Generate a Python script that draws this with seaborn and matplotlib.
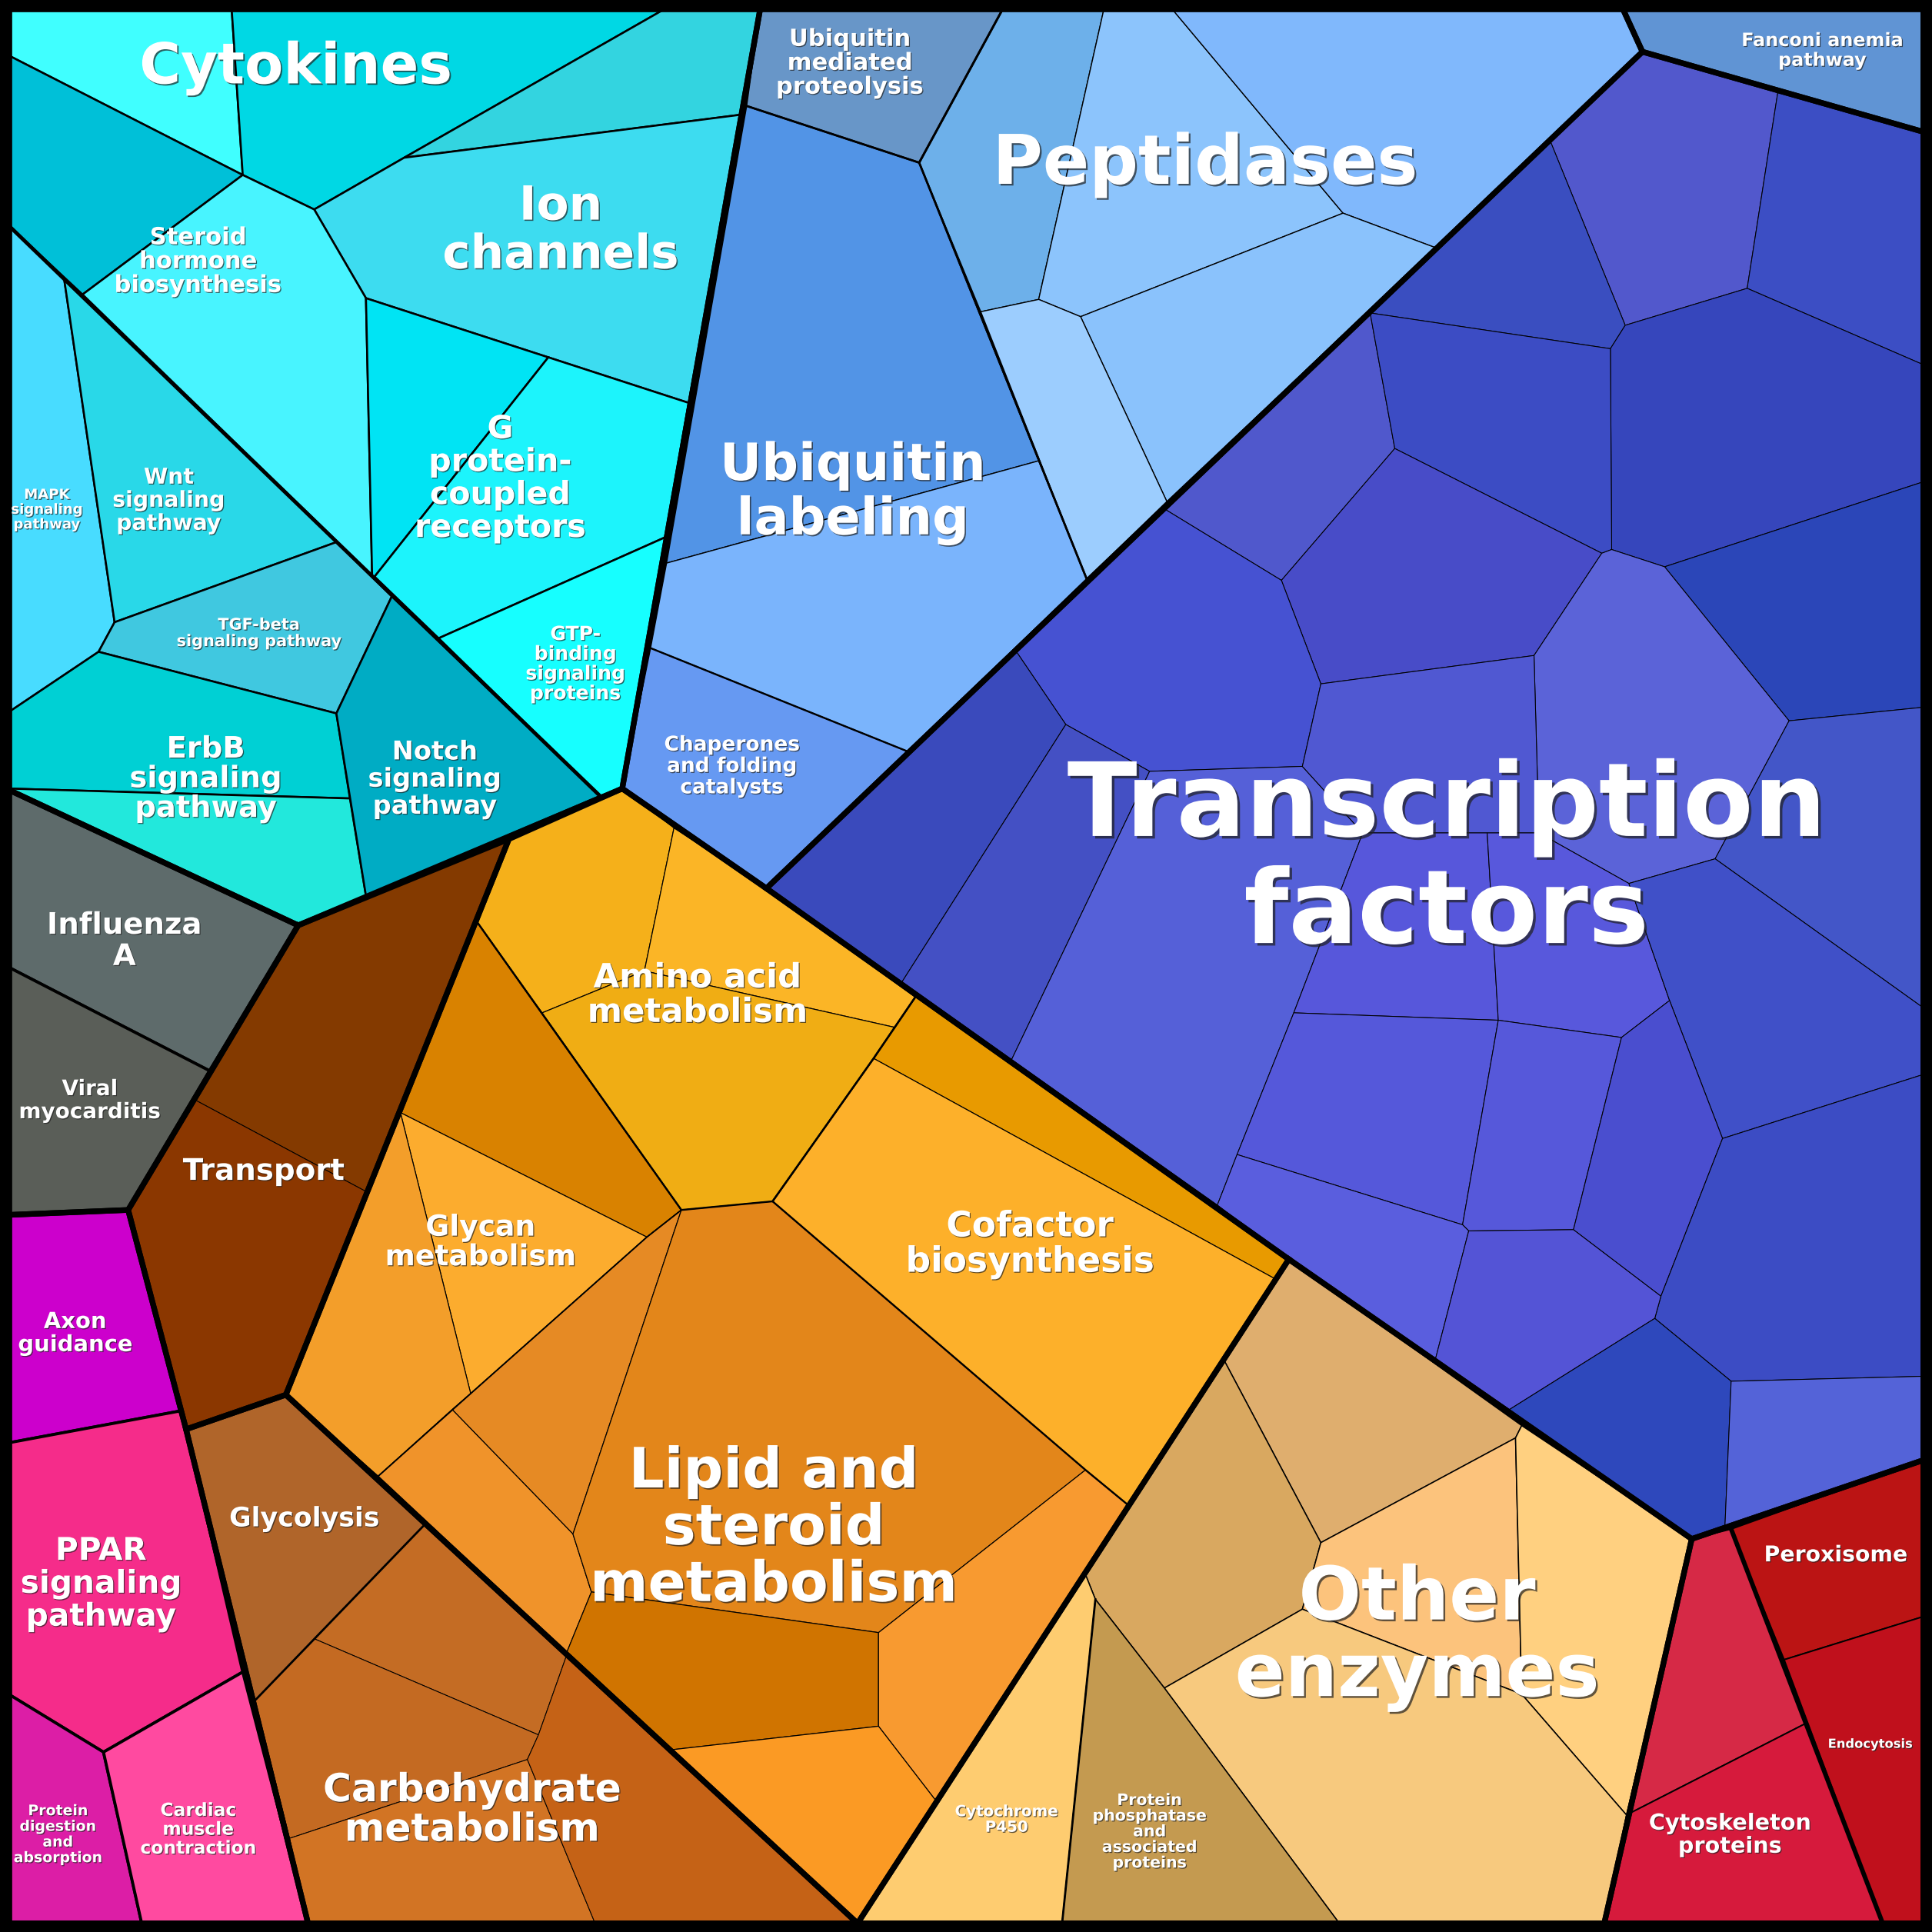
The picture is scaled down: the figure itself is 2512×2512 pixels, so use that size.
import matplotlib
matplotlib.use("Agg")
import matplotlib.pyplot as plt
import matplotlib.patheffects as pe
import seaborn as sns

# Voronoi treemap of functional categories.
# Coordinates are pixels on a 1568 px square canvas, y grows downward.
SIZE = 1568
L, R, T, B = 7, 1561, 7, 1561

# ---------------------------------------------------------------------------
# Cells (polygon vertices) and their colours, one list per top-level group
# ---------------------------------------------------------------------------
cyan_polys = [
    [(L, T), (188, T), (197, 142), (L, 45)],
    [(188, T), (540, T), (328, 128), (255, 170), (197, 142)],
    [(540, T), (617, T), (602, 93), (328, 128)],
    [(328, 128), (602, 93), (559, 327), (445, 290), (297, 242), (255, 170)],
    [(L, 45), (197, 142), (67, 239), (L, 183)],
    [(197, 142), (255, 170), (297, 242), (302, 467), (67, 239)],
    [(297, 242), (445, 290), (304, 468), (302, 467)],
    [(445, 290), (559, 327), (540, 436), (356, 518), (304, 468)],
    [(356, 518), (540, 436), (505, 640), (487, 646)],
    [(L, 183), (52, 226), (93, 505), (80, 529), (L, 578)],
    [(52, 226), (273, 440), (93, 505)],
    [(93, 505), (273, 440), (318, 484), (273, 579), (80, 529)],
    [(80, 529), (273, 579), (284, 648), (L, 640), (L, 578)],
    [(L, 640), (284, 648), (297, 727), (242, 751)],
    [(318, 484), (487, 646), (297, 727), (273, 579)],
]
cyan_colors = ["#40ffff", "#00d8e4", "#33d4e0", "#3ddcf0", "#00c0d8",
               "#48f4ff", "#00e4f4", "#1cf4fc", "#16ffff", "#48dcff",
               "#29d8e8", "#40c8e0", "#00d0d4", "#22e8dc", "#00acc4"]

blue_polys = [
    [(617, T), (814, T), (746, 132), (606, 86)],
    [(606, 86), (746, 132), (843, 374), (541, 457)],
    [(541, 457), (843, 374), (882, 470), (737, 610), (528, 526)],
    [(528, 526), (737, 610), (622, 721), (505, 640)],
    [(814, T), (896, T), (843, 243), (796, 253), (746, 132)],
    [(896, T), (951, T), (1090, 173), (877, 257), (843, 243)],
    [(951, T), (1317, T), (1333, 42), (1165, 201), (1090, 173)],
    [(877, 257), (1090, 173), (1165, 201), (947, 407)],
    [(796, 253), (843, 243), (877, 257), (947, 407), (882, 470)],
]
blue_colors = ["#6896c8", "#5294e6", "#7ab4fc", "#6699f2", "#6db0ea",
               "#8cc4fc", "#80b8fc", "#8ac2fc", "#9ccdfe"]

fanconi_polys = [[(1317, T), (R, T), (R, 107), (1333, 42)]]
fanconi_colors = ["#6094d4"]

tf_polys = [
    [(1258, 114), (1333, 42), (1443, 74), (1418, 234), (1319, 264)],
    [(1443, 74), (R, 107), (R, 296), (1418, 234)],
    [(1112, 254), (1258, 114), (1319, 264), (1307, 283)],
    [(1319, 264), (1418, 234), (R, 296), (R, 391), (1351, 460), (1308, 446), (1307, 283)],
    [(945, 413), (1112, 254), (1132, 364), (1040, 471)],
    [(1112, 254), (1307, 283), (1308, 446), (1300, 449), (1132, 364)],
    [(1132, 364), (1300, 449), (1245, 532), (1072, 555), (1040, 471)],
    [(1351, 460), (R, 391), (R, 574), (1452, 585)],
    [(1245, 532), (1300, 449), (1308, 446), (1351, 460), (1452, 585), (1392, 697), (1322, 717), (1249, 676)],
    [(1452, 585), (R, 574), (R, 818), (1392, 697)],
    [(825, 529), (945, 413), (1040, 471), (1072, 555), (1057, 622), (933, 626), (865, 588)],
    [(825, 529), (865, 588), (732, 797), (622, 721)],
    [(865, 588), (933, 626), (821, 860), (732, 797)],
    [(933, 626), (1057, 622), (1106, 676), (1050, 822), (1004, 937), (988, 978), (821, 860)],
    [(1072, 555), (1245, 532), (1249, 676), (1207, 676), (1106, 676), (1057, 622)],
    [(1106, 676), (1207, 676), (1216, 828), (1050, 822)],
    [(1207, 676), (1249, 676), (1322, 717), (1355, 812), (1316, 842), (1216, 828)],
    [(1322, 717), (1392, 697), (R, 818), (R, 872), (1398, 924), (1355, 812)],
    [(1050, 822), (1216, 828), (1187, 994), (1004, 937)],
    [(1216, 828), (1316, 842), (1277, 998), (1192, 999), (1187, 994)],
    [(1316, 842), (1355, 812), (1398, 924), (1348, 1052), (1277, 998)],
    [(1398, 924), (R, 872), (R, 1117), (1405, 1121), (1343, 1070), (1348, 1052)],
    [(988, 978), (1004, 937), (1187, 994), (1192, 999), (1165, 1103), (1046, 1022)],
    [(1192, 999), (1277, 998), (1348, 1052), (1343, 1070), (1225, 1144), (1165, 1103)],
    [(1225, 1144), (1343, 1070), (1405, 1121), (1400, 1238), (1373, 1249)],
    [(1405, 1121), (R, 1117), (R, 1185), (1400, 1238)],
]
tf_colors = ["#5258cc", "#3c4ec4", "#3a4ec0", "#3646bc", "#5058cc", "#3c4cc4",
             "#484cc8", "#2b46b8", "#5b63d8", "#4356c8", "#4652d2", "#3a4abc",
             "#4450c4", "#5560d8", "#5058d2", "#5757db", "#5858dc", "#4050c8",
             "#5558da", "#5658da", "#4a4ecf", "#3c4cc4", "#5a5ede", "#5454d6",
             "#2e48bc", "#5463d8"]

orange_polys = [
    [(413, 681), (505, 640), (547, 672), (523, 788), (440, 822), (387, 748)],
    [(547, 672), (622, 721), (743, 809), (727, 834), (523, 788)],
    [(440, 822), (523, 788), (727, 834), (709, 859), (627, 975), (553, 982)],
    [(743, 809), (1046, 1022), (1035, 1038), (709, 859)],
    [(709, 859), (1035, 1038), (915, 1221), (881, 1193), (627, 975)],
    [(387, 748), (553, 982), (525, 1004), (325, 903)],
    [(325, 903), (525, 1004), (382, 1131)],
    [(325, 903), (382, 1131), (367, 1144), (307, 1198), (232, 1132)],
    [(382, 1131), (525, 1004), (553, 982), (465, 1245), (367, 1144)],
    [(367, 1144), (465, 1245), (480, 1292), (460, 1341), (307, 1198)],
    [(553, 982), (627, 975), (881, 1193), (713, 1325), (480, 1292), (465, 1245)],
    [(480, 1292), (713, 1325), (713, 1401), (546, 1420), (460, 1341)],
    [(881, 1193), (915, 1221), (760, 1462), (713, 1401), (713, 1325)],
    [(546, 1420), (713, 1401), (760, 1462), (696, B)],
]
orange_colors = ["#f5b01a", "#fbb526", "#f0ad14", "#e89a00", "#fdb02a",
                 "#d98200", "#fcac2e", "#f39e2a", "#e68a24", "#f0932a",
                 "#e3861a", "#d07400", "#f89a30", "#fb9a24"]

carb_polys = [
    [(232, 1132), (345, 1237), (207, 1380), (151, 1160)],
    [(345, 1237), (460, 1343), (437, 1408), (255, 1330)],
    [(255, 1330), (437, 1408), (428, 1428), (235, 1492), (207, 1380)],
    [(235, 1492), (428, 1428), (483, B), (250, B)],
    [(460, 1343), (696, B), (483, B), (428, 1428), (437, 1408)],
]
carb_colors = ["#b0652a", "#c46c24", "#c46a22", "#d27424", "#c56216"]

transport_polys = [
    [(242, 751), (413, 681), (297, 967), (157, 892)],
    [(157, 892), (297, 967), (232, 1132), (151, 1160), (104, 982)],
]
transport_colors = ["#843a00", "#8b3700"]

gray_polys = [
    [(L, 641), (242, 751), (170, 869), (L, 785)],
    [(L, 785), (170, 869), (104, 982), (L, 986)],
]
gray_colors = ["#5e6b6b", "#5a5e58"]

magenta_polys = [
    [(L, 986), (104, 982), (147, 1145), (L, 1171)],
    [(L, 1171), (147, 1145), (151, 1160), (197, 1357), (84, 1422), (L, 1375)],
    [(L, 1375), (84, 1422), (115, B), (L, B)],
    [(84, 1422), (197, 1357), (250, B), (115, B)],
]
magenta_colors = ["#cc00cc", "#f52c8a", "#dc1ea6", "#ff4aa0"]

enzyme_polys = [
    [(1046, 1022), (1235, 1157), (1230, 1167), (1072, 1252), (994, 1105)],
    [(994, 1105), (1072, 1252), (1057, 1306), (945, 1370), (889, 1298), (881, 1278)],
    [(1072, 1252), (1230, 1167), (1235, 1375), (1057, 1306)],
    [(1235, 1157), (1373, 1249), (1320, 1473), (1235, 1375), (1230, 1167)],
    [(945, 1370), (1057, 1306), (1235, 1375), (1320, 1473), (1302, B), (1087, B)],
    [(881, 1278), (889, 1298), (862, B), (696, B)],
    [(889, 1298), (945, 1370), (1087, B), (862, B)],
]
enzyme_colors = ["#dfae6e", "#d9a860", "#fcc37c", "#ffd080", "#f7c97e",
                 "#fecc70", "#c49a50"]

red_polys = [
    [(1373, 1249), (1405, 1241), (1465, 1399), (1324, 1471)],
    [(1324, 1471), (1465, 1399), (1528, B), (1302, B)],
    [(1405, 1241), (R, 1185), (R, 1312), (1448, 1347)],
    [(1448, 1347), (R, 1312), (R, B), (1528, B)],
]
red_colors = ["#d62946", "#d61a3c", "#bb1414", "#c0101c"]

# top-level group outlines
group_outlines = [
    [(L, T), (617, T), (505, 640), (242, 751), (L, 641)],
    [(617, T), (1317, T), (1333, 42), (622, 721), (505, 640)],
    [(1317, T), (R, T), (R, 107), (1333, 42)],
    [(1333, 42), (R, 107), (R, 1185), (1373, 1249), (1046, 1022), (622, 721)],
    [(505, 640), (622, 721), (1046, 1022), (696, B), (232, 1132), (413, 681)],
    [(232, 1132), (696, B), (250, B), (151, 1160)],
    [(242, 751), (413, 681), (232, 1132), (151, 1160), (104, 982)],
    [(L, 641), (242, 751), (104, 982), (L, 986)],
    [(L, 986), (104, 982), (151, 1160), (250, B), (L, B)],
    [(1046, 1022), (1373, 1249), (1302, B), (696, B)],
    [(1373, 1249), (R, 1185), (R, B), (1302, B)],
]

# second-level outlines (sub-groups)
sub_outlines = [
    [(L, 183), (487, 646)],
    [(617, T), (814, T), (746, 132), (606, 86)],
    [(746, 132), (814, T), (1317, T), (1333, 42), (882, 470), (746, 132)],
    [(606, 86), (746, 132), (882, 470), (737, 610), (528, 526)],
    [(413, 681), (505, 640), (622, 721), (743, 809), (709, 859), (627, 975), (553, 982), (387, 748)],
    [(743, 809), (709, 859), (627, 975), (881, 1193), (915, 1221)],
    [(387, 748), (553, 982), (525, 1004), (382, 1131), (307, 1198)],
    [(232, 1132), (345, 1237), (207, 1380)],
    [(889, 1298), (862, B)],
    [(1405, 1241), (1528, B)],
]
sub_widths = [1.4, 0.8, 0.8, 0.7, 0.7, 0.7, 0.55, 0.8, 0.8, 1.7]

# ---------------------------------------------------------------------------
# Labels
# ---------------------------------------------------------------------------
label_text = [
    "Cytokines", "Ion\nchannels", "Steroid\nhormone\nbiosynthesis",
    "G\nprotein-\ncoupled\nreceptors", "MAPK\nsignaling\npathway",
    "Wnt\nsignaling\npathway", "TGF-beta\nsignaling pathway",
    "GTP-\nbinding\nsignaling\nproteins", "ErbB\nsignaling\npathway",
    "Notch\nsignaling\npathway", "Ubiquitin\nmediated\nproteolysis",
    "Peptidases", "Ubiquitin\nlabeling", "Chaperones\nand folding\ncatalysts",
    "Fanconi anemia\npathway", "Transcription\nfactors", "Influenza\nA",
    "Viral\nmyocarditis", "Transport", "Amino acid\nmetabolism",
    "Glycan\nmetabolism", "Cofactor\nbiosynthesis",
    "Lipid and\nsteroid\nmetabolism", "Other\nenzymes",
    "Carbohydrate\nmetabolism", "Glycolysis", "Axon\nguidance",
    "PPAR\nsignaling\npathway", "Protein\ndigestion\nand\nabsorption",
    "Cardiac\nmuscle\ncontraction", "Cytochrome\nP450",
    "Protein\nphosphatase\nand\nassociated\nproteins", "Peroxisome",
    "Endocytosis", "Cytoskeleton\nproteins",
]
label_x = [240, 455, 161, 406, 38, 137, 210, 467, 167, 353, 690, 978, 692,
           594, 1479, 1174, 101, 73, 214, 566, 390, 836, 628, 1150, 383, 247,
           61, 82, 47, 161, 817, 933, 1490, 1518, 1404]
label_y = [52, 185, 211, 387, 413, 405, 513, 538, 631, 631, 50, 130, 397,
           621, 40, 693, 762, 892, 949, 806, 1007, 1008, 1238, 1325, 1467,
           1231, 1081, 1284, 1488, 1484, 1476, 1486, 1261, 1415, 1488]
# label em size in canvas pixels
label_em = [45.8, 38.2, 19.1, 25.7, 11.3, 17.7, 13.0, 15.7, 24.0, 21.0, 19.1,
            55.6, 41.7, 16.5, 14.9, 83.1, 24.1, 17.4, 24.2, 27.1, 23.5, 28.4,
            45.2, 59.9, 31.4, 21.7, 18.1, 25.4, 11.8, 14.6, 12.4, 12.8, 17.7,
            10.2, 17.9]

# ---------------------------------------------------------------------------
# Drawing
# ---------------------------------------------------------------------------
sns.set_theme(style="white")
plt.rcParams['font.family'] = ['DejaVu Sans']

DPI = 250
fig = plt.figure(figsize=(2512 / DPI, 2512 / DPI), dpi=DPI, facecolor="black")
ax = fig.add_axes([0, 0, 1, 1])
ax.set_xlim(0, SIZE)
ax.set_ylim(SIZE, 0)
ax.set_facecolor("black")
ax.axis("off")

px_to_pt = (2512 / SIZE) / DPI * 72

cell_layers = [
    (cyan_polys, cyan_colors, 0.75),
    (blue_polys, blue_colors, 0.4),
    (fanconi_polys, fanconi_colors, 0.4),
    (tf_polys, tf_colors, 0.3),
    (orange_polys, orange_colors, 0.35),
    (carb_polys, carb_colors, 0.3),
    (transport_polys, transport_colors, 0.3),
    (gray_polys, gray_colors, 1.1),
    (magenta_polys, magenta_colors, 1.1),
    (enzyme_polys, enzyme_colors, 0.45),
    (red_polys, red_colors, 0.55),
]

for polys, colors, lw in cell_layers:
    for poly, color in zip(polys, colors):
        xs = [p[0] for p in poly]
        ys = [p[1] for p in poly]
        ax.fill(xs, ys, facecolor=color, edgecolor="black", linewidth=lw,
                joinstyle="miter")

for line, lw in zip(sub_outlines, sub_widths):
    xs = [p[0] for p in line]
    ys = [p[1] for p in line]
    ax.plot(xs, ys, color="black", linewidth=lw, solid_joinstyle="miter",
            solid_capstyle="projecting")

for poly in group_outlines:
    xs = [p[0] for p in poly] + [poly[0][0]]
    ys = [p[1] for p in poly] + [poly[0][1]]
    ax.plot(xs, ys, color="black", linewidth=2.1, solid_joinstyle="miter",
            solid_capstyle="projecting")

# outer frame
ax.plot([L, R, R, L, L], [T, T, B, B, T], color="black", linewidth=2.5,
        solid_joinstyle="miter")

for txt, x, y, em in zip(label_text, label_x, label_y, label_em):
    fs = em * px_to_pt
    off = max(0.35, fs * 0.025)
    ax.text(x, y + 0.07 * em, txt, ha="center", va="center", ma="center",
            fontsize=fs, fontweight="bold", color="white", linespacing=1.09,
            path_effects=[pe.SimplePatchShadow(offset=(off, -off),
                                               shadow_rgbFace="#202020",
                                               alpha=0.7),
                          pe.Normal()])

fig.savefig("out.png", dpi=DPI, facecolor="black")
plt.close(fig)
